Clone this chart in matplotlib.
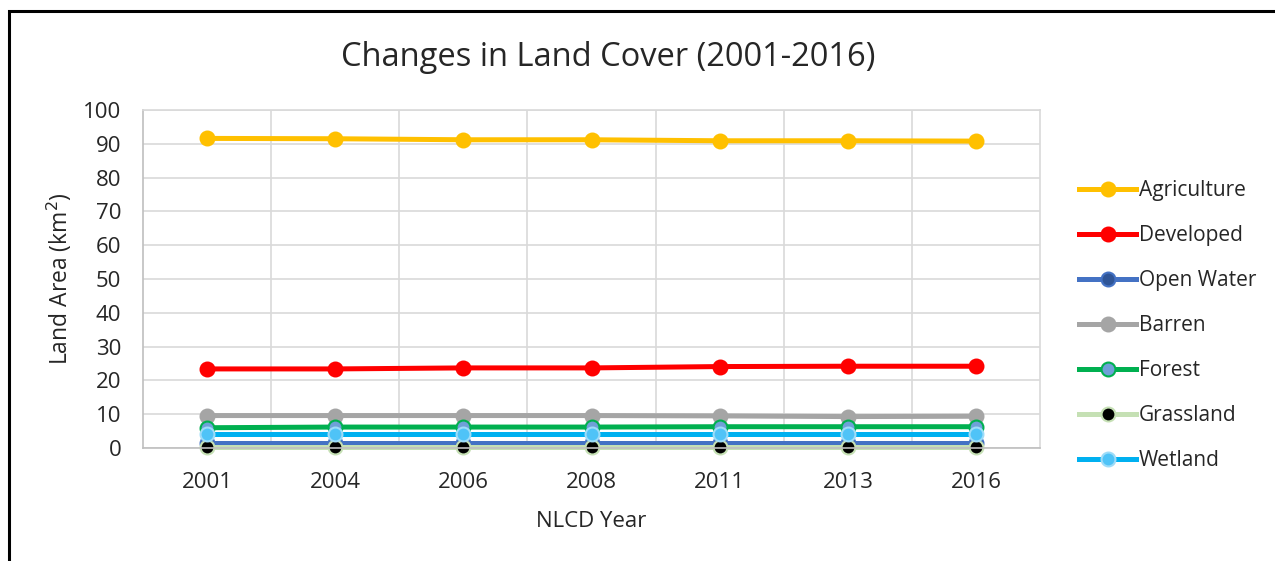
# Changes in Land Cover (2001-2016), NLCD
import matplotlib.pyplot as plt
from matplotlib.patches import Rectangle

plt.rcParams["font.family"] = ["Open Sans", "DejaVu Sans"]

years = ["2001", "2004", "2006", "2008", "2011", "2013", "2016"]
agriculture = [91.6, 91.5, 91.2, 91.2, 90.9, 90.9, 90.8]
developed = [23.4, 23.4, 23.7, 23.7, 24.1, 24.2, 24.2]
open_water = [1.6, 1.6, 1.6, 1.6, 1.6, 1.6, 1.6]
barren = [9.6, 9.6, 9.6, 9.6, 9.5, 9.3, 9.4]
forest = [6.0, 6.2, 6.2, 6.2, 6.3, 6.3, 6.3]
grassland = [0.3, 0.3, 0.3, 0.3, 0.3, 0.3, 0.3]
wetland = [4.1, 4.1, 4.1, 4.1, 4.1, 4.1, 4.1]

series = [
    ("Agriculture", agriculture, "#FFC000", "#FFC000", "#FFC000"),
    ("Developed", developed, "#FF0000", "#FF0000", "#FF0000"),
    ("Open Water", open_water, "#4472C4", "#2F5597", "#4472C4"),
    ("Barren", barren, "#A5A5A5", "#A5A5A5", "#A5A5A5"),
    ("Forest", forest, "#00B050", "#6FA0D8", "#00B050"),
    ("Grassland", grassland, "#C5E0B4", "#000000", "#C5E0B4"),
    ("Wetland", wetland, "#00B0F0", "#4FC3F7", "#9DDCF9"),
]

fig = plt.figure(figsize=(12.75, 5.61), dpi=100)
ax = fig.add_axes([0.112, 0.2014, 0.704, 0.6025])

x = range(len(years))
for name, vals, lc, mfc, mec in series:
    ax.plot(x, vals, color=lc, lw=3.6, marker="o", ms=10,
            mfc=mfc, mec=mec, mew=1.5, label=name, clip_on=False)

ax.set_xlim(-0.5, len(years) - 0.5)
ax.set_ylim(0, 100)
ax.set_yticks(range(0, 101, 10))
ax.set_xticks(list(x))
ax.set_xticklabels(years)
ax.set_xticks([i + 0.5 for i in range(len(years) - 1)], minor=True)
ax.tick_params(axis="both", which="both", length=0, labelsize=16, colors="#262626")
ax.tick_params(axis="x", pad=17)
ax.tick_params(axis="y", pad=15.5)
ax.grid(True, axis="y", which="major", color="#D9D9D9", lw=1.2)
ax.grid(True, axis="x", which="minor", color="#D9D9D9", lw=1.2)
ax.set_axisbelow(True)
for s in ax.spines.values():
    s.set_color("#D9D9D9")
    s.set_linewidth(1.2)
ax.spines["left"].set_color("#BFBFBF")
ax.spines["bottom"].set_color("#BFBFBF")

ax.set_xlabel("NLCD Year", fontsize=16, color="#262626")
ax.xaxis.set_label_coords(0.5, -0.186)
ax.set_ylabel("Land Area (km$^2$)", fontsize=16.5, color="#262626")
ax.yaxis.set_label_coords(-0.077, 0.5)
fig.text(0.477, 0.898, "Changes in Land Cover (2001-2016)", ha="center", va="center",
         fontsize=23.5, color="#262626")

ax.legend(loc="center left", bbox_to_anchor=(1.0435, 0.362), frameon=False,
          fontsize=15, labelspacing=1.15, handlelength=2.7, handletextpad=0.15,
          borderpad=0, borderaxespad=0, labelcolor="#262626")

# outer black frame (extends past right and bottom edge)
fig.patches.append(Rectangle((0.007, -0.05), 1.05, 1.03, transform=fig.transFigure,
                             fill=False, ec="black", lw=2.2))

fig.savefig("out.png", dpi=100)
